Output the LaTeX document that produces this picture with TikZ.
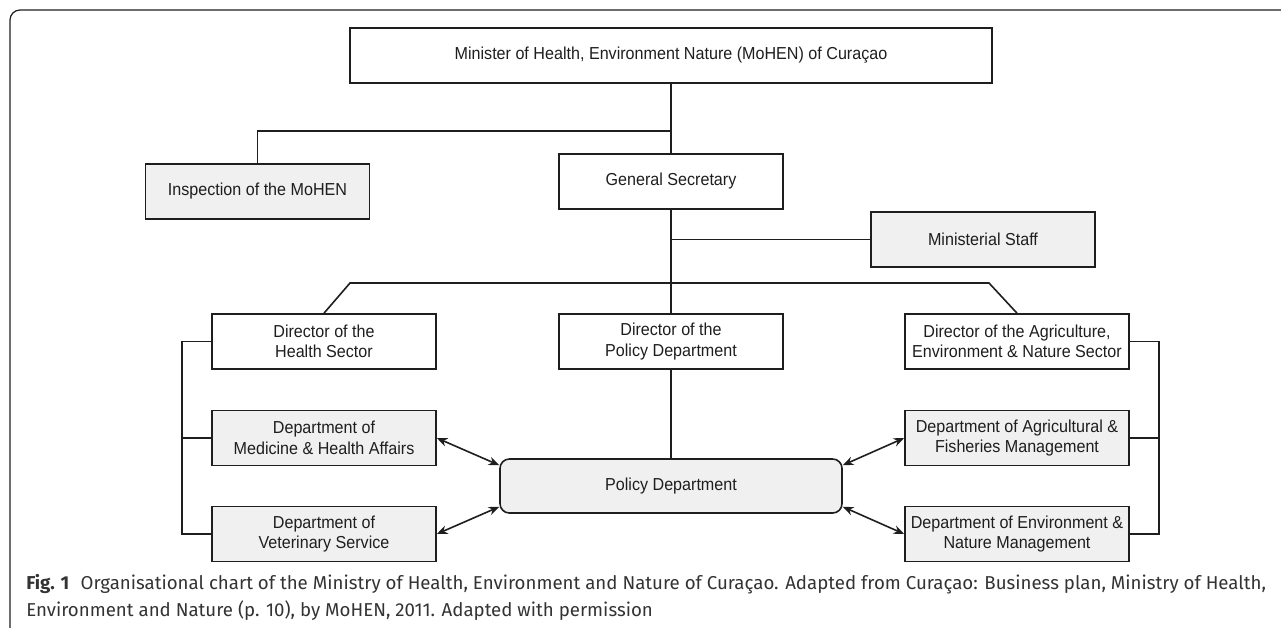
\documentclass[tikz,border=0pt]{standalone}
\usepackage{fontspec}
\setmainfont{Liberation Sans}
\newfontfamily\boxfont{Liberation Sans}[FakeStretch=0.93]
\newfontfamily\capfont{Fira Sans}
\usepackage{xcolor}
\usetikzlibrary{positioning,calc,arrows.meta}
\definecolor{edge}{HTML}{1E1E1E}
\definecolor{boxgrey}{HTML}{F0F0F0}
\definecolor{captext}{HTML}{333333}

\begin{document}
\begin{tikzpicture}[x=0.75pt, y=-0.75pt,
    orgbox/.style={draw=edge, line width=1.2pt, minimum width=168pt, minimum height=41.25pt,
      inner sep=0pt, align=center, text=edge, font=\boxfont\fontsize{13}{15.3}\selectfont},
    unit/.style={orgbox, fill=boxgrey},
    link/.style={draw=edge, line width=1.2pt},
    both/.style={link, {Stealth[length=8pt,width=6.5pt]}-{Stealth[length=8pt,width=6.5pt]}}]
        \useasboundingbox (0,0) rectangle (1281,628);
        \clip (0,0) rectangle (1281,628);
        % Frame
        \draw[draw=edge, line width=0.9pt, rounded corners=7.5pt] (10,10) rectangle (1310,640);

        % Top levels
        \node[orgbox, minimum width=481.5pt] (minister) at (671,55.5) {Minister of Health, Environment Nature (MoHEN) of Curaçao};
        \node[unit] (inspect) at (257.5,191.5) {Inspection of the MoHEN};
        \node[orgbox] (gensec) at (671,181.5) {General Secretary};
        \node[unit] (staff) at (983,239.5) {Ministerial Staff};

        % Directors
        \node[orgbox] (dirhealth) at (324,341.5) {Director of the\\Health Sector};
        \node[orgbox] (dirpolicy) at (671,341.5) {Director of the\\Policy Department};
        \node[orgbox] (diragri) at (1017,341.5) {Director of the Agriculture,\\Environment \& Nature Sector};

        % Departments
        \node[unit] (medicine) at (324,438) {Department of\\Medicine \& Health Affairs};
        \node[unit] (vet) at (324,534) {Department of\\Veterinary Service};
        \node[unit] (fisheries) at (1017,438) {Department of Agricultural \&\\Fisheries Management};
        \node[unit] (envnat) at (1017,534) {Department of Environment \&\\Nature Management};
        \node[unit, rounded corners=7pt, minimum width=256.5pt, minimum height=40.5pt] (policy) at (671,486) {Policy Department};

        % Lines
        \coordinate (inspj) at (671,131);
        \coordinate (staffj) at (671,239.5);
        \coordinate (barl) at (350,283);
        \coordinate (barr) at (989,283);
        \draw[link] (minister) -- (gensec);
        \draw[link] (inspect.north) |- (inspj);
        \draw[link] (gensec) -- (dirpolicy);
        \draw[link] (staffj) -- (staff.west);
        \draw[link] (dirhealth.north) -- (barl) -- (barr) -- (diragri.north);
        \draw[link] (dirpolicy) -- (policy);
        \draw[link] (dirhealth.west) -- ++(-29.5,0) |- (vet.west);
        \draw[link] (medicine.west) -- ++(-29.5,0);
        \draw[link] (diragri.east) -- ++(29,0) |- (envnat.east);
        \draw[link] (fisheries.east) -- ++(29,0);

        % Arrows to the policy department
        \draw[both] (medicine.east) -- ([yshift=-5.25pt]policy.north west);
        \draw[both] (vet.east) -- ([yshift=5.25pt]policy.south west);
        \draw[both] ([yshift=-5.25pt]policy.north east) -- (fisheries.west);
        \draw[both] ([yshift=5.25pt]policy.south east) -- (envnat.west);

        % Caption
        \node[anchor=base west, align=left, inner sep=0pt, text=captext,
          font=\capfont\fontsize{14}{20.25}\selectfont] (caption) at (26,616)
          {\textbf{Fig. 1}\hspace{0.6em}Organisational chart of the Ministry of Health, Environment and Nature of Curaçao. Adapted from Curaçao: Business plan, Ministry of Health,\\Environment and Nature (p. 10), by MoHEN, 2011. Adapted with permission};
    \end{tikzpicture}
\end{document}
